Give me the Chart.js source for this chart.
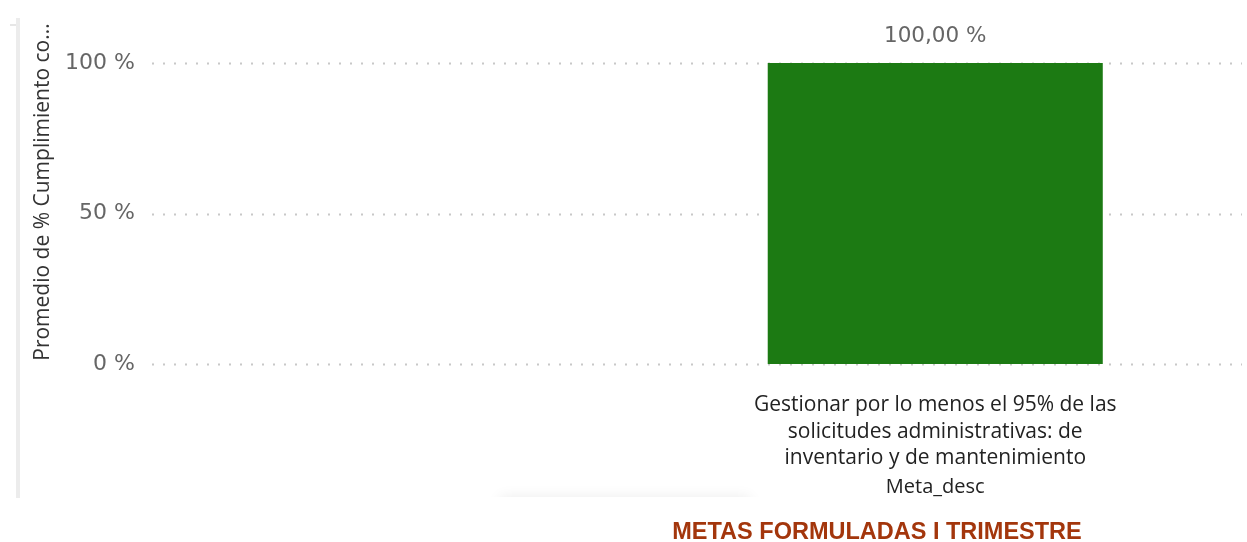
<!DOCTYPE html>
<html>
<head>
<meta charset="utf-8">
<script src="https://cdn.jsdelivr.net/npm/chart.js@4.4.1/dist/chart.umd.min.js"></script>
<style>
  html, body { margin: 0; padding: 0; background: #ffffff; }
  #wrap { position: relative; width: 1247px; height: 542px; }
  canvas { display: block; }
</style>
</head>
<body>
<div id="wrap"><canvas id="c" width="1247" height="542"></canvas></div>
<script>
// ---- data ----
const categories = [
  "",
  ["Gestionar por lo menos el 95% de las", "solicitudes administrativas: de", "inventario y de mantenimiento"]
];
const cumplimiento = [null, 100];
const yTicks = [0, 50, 100];
const yAxisTitle = "Promedio de % Cumplimiento co...";
const xAxisTitle = "Meta_desc";
const chartTitle = "METAS FORMULADAS I TRIMESTRE";

const FONT = "'Open Sans', 'Noto Sans', sans-serif";
const NUMFONT = "'DejaVu Sans', sans-serif";

const decorPlugin = {
  id: 'decor',
  beforeDraw(chart) {
    const {ctx} = chart;
    ctx.save();
    // faint shadow of a neighbouring element (only above its top edge)
    ctx.beginPath();
    ctx.rect(0, 0, 1247, 497);
    ctx.clip();
    ctx.shadowColor = 'rgba(0,0,0,0.08)';
    ctx.shadowBlur = 14;
    ctx.fillStyle = '#ffffff';
    ctx.fillRect(500, 497, 250, 40);
    ctx.restore();
  },
  beforeDatasetsDraw(chart) {
    const {ctx, chartArea, scales} = chart;
    ctx.save();
    ctx.strokeStyle = '#c8c8c8';
    ctx.lineWidth = 2;
    ctx.setLineDash([2, 9]);
    yTicks.forEach(v => {
      const y = Math.round(scales.y.getPixelForValue(v)) + 0.5;
      ctx.beginPath();
      ctx.moveTo(chartArea.left + 2, y);
      ctx.lineTo(1242, y);
      ctx.stroke();
    });
    ctx.restore();
  },
  afterDraw(chart) {
    const {ctx, scales} = chart;
    ctx.save();
    // left border strip
    ctx.fillStyle = '#ececec';
    ctx.fillRect(16, 18, 4, 480);
    ctx.fillStyle = '#e6e6e6';
    ctx.fillRect(10, 24, 6, 2);
    ctx.restore();

    ctx.save();
    // y-axis title
    ctx.fillStyle = '#333333';
    ctx.font = "21px " + FONT;
    ctx.textAlign = 'center';
    ctx.textBaseline = 'middle';
    ctx.translate(43, 192);
    ctx.rotate(-Math.PI / 2);
    ctx.fillText(yAxisTitle, 0, 0);
    ctx.restore();

    ctx.save();
    ctx.textAlign = 'center';
    // x-axis title under the category
    ctx.fillStyle = '#222222';
    ctx.font = "20px " + FONT;
    ctx.textBaseline = 'alphabetic';
    const cx = scales.x.getPixelForValue(1);
    ctx.fillText(xAxisTitle, cx, 493);
    // data labels
    ctx.fillStyle = '#666666';
    ctx.font = "21.5px " + NUMFONT;
    const meta = chart.getDatasetMeta(0);
    meta.data.forEach((bar, i) => {
      const v = cumplimiento[i];
      if (v == null) return;
      ctx.fillText(v.toFixed(2).replace('.', ',') + ' %', bar.x, bar.y - 21);
    });
    // chart title
    ctx.fillStyle = '#A3360C';
    ctx.font = "bold 23.5px 'Liberation Sans', Arial, sans-serif";
    ctx.fillText(chartTitle, 877, 539);
    ctx.restore();
  }
};

new Chart(document.getElementById('c'), {
  type: 'bar',
  data: {
    labels: categories,
    datasets: [{
      data: cumplimiento,
      backgroundColor: '#1C7A13',
      borderWidth: 0,
      barPercentage: 0.64,
      categoryPercentage: 1.0
    }]
  },
  options: {
    responsive: false,
    animation: false,
    devicePixelRatio: 1,
    layout: { padding: { left: 0, right: 50, top: 63, bottom: 0 } },
    plugins: { legend: { display: false }, tooltip: { enabled: false }, title: { display: false } },
    scales: {
      x: {
        grid: { display: false, drawTicks: false },
        border: { display: false },
        ticks: {
          color: '#222222',
          font: { family: FONT, size: 21, lineHeight: 1.262 },
          padding: 28,
          maxRotation: 0,
          autoSkip: false
        },
        afterFit(scale) { scale.height = 178; }
      },
      y: {
        min: 0,
        max: 100,
        afterBuildTicks(scale) { scale.ticks = yTicks.map(v => ({ value: v })); },
        grid: { display: false, drawTicks: false },
        border: { display: false },
        ticks: {
          color: '#666666',
          font: { family: NUMFONT, size: 22 },
          padding: 15,
          callback: v => v + ' %'
        },
        afterFit(scale) { scale.width = 150; }
      }
    }
  },
  plugins: [decorPlugin]
});
</script>
</body>
</html>
